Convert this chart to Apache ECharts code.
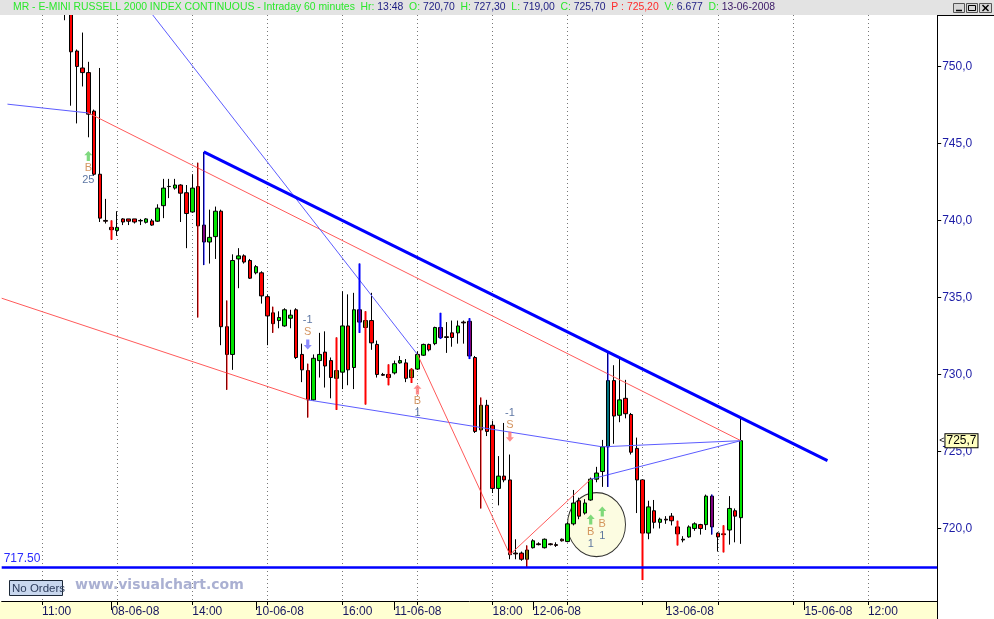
<!DOCTYPE html>
<html><head><meta charset="utf-8">
<script src="https://cdn.jsdelivr.net/npm/echarts@6/dist/echarts.min.js"></script>
<style>html,body{margin:0;padding:0;background:#fff}#c{width:994px;height:619px}</style>
</head><body><div id="c"></div>
<script>
// ---------- DATA ----------
const totalSlots = 163;           // hourly slots on the category axis (incl. empty future slots)
const firstBar = 11;              // slot of the first candle
const opens = [755.5,754.5,751.0,749.9,749.6,747.1,743.0,740.0,739.55,739.35,740.1,740.1,740.1,740.0,739.88,739.97,739.95,740.96,742.2,742.1,
742.3,741.8,740.55,742.2,739.7,738.6,738.95,740.6,733.1,731.3,737.5,737.7,737.4,736.6,736.6,735.05,734.0,733.5,733.15,733.65,
734.2,731.3,730.25,728.35,730.9,731.45,730.9,729.75,730.15,733.15,730.45,734.2,733.05,733.5,731.95,730.0,730.0,730.1,730.75,730.75,
729.8,730.35,731.25,731.95,732.0,733.05,732.45,732.7,732.7,733.4,733.45,731.1,726.4,728.0,726.7,722.6,723.4,723.15,718.4,718.4,
718.0,718.75,719.0,718.75,719.0,718.95,719.3,719.15,720.3,721.8,721.0,721.85,723.2,723.7,725.3,729.6,727.35,728.45,727.4,725.2,
723.15,719.7,721.15,720.4,720.6,720.8,720.1,719.3,719.45,720.0,720.25,720.25,722.1,719.7,719.65,719.9,721.15,720.7];
const highs = [756.0,755.0,751.1,752.2,750.3,747.2,749.9,741.4,740.0,740.6,740.15,740.1,740.1,740.1,740.15,740.1,741.05,742.7,742.7,742.7,
742.35,742.3,743.0,743.75,744.45,740.7,740.9,740.7,734.8,737.8,738.2,737.8,737.5,737.1,736.7,735.2,734.4,734.1,734.3,734.2,
734.3,732.0,730.7,731.3,732.7,732.8,731.1,732.4,735.4,735.2,735.3,737.2,734.1,735.3,732.2,730.1,730.65,730.9,731.2,731.0,
730.4,731.5,732.0,732.0,733.1,734.0,733.4,733.5,733.5,733.5,733.65,731.2,728.5,728.35,727.0,724.7,726.85,724.8,719.3,718.5,
718.9,719.3,719.1,719.35,719.05,719.1,719.35,720.4,722.5,722.0,721.9,723.3,724.0,725.75,731.4,730.6,731.05,729.65,727.5,725.9,
723.2,721.8,721.85,720.7,720.8,721.0,720.5,719.5,720.2,720.4,720.3,722.2,722.2,719.75,720.2,722.1,721.3,727.3];
const lows = [753.0,747.45,746.3,748.7,745.4,742.9,739.9,739.8,738.75,739.0,739.7,739.7,739.8,739.7,739.8,739.65,739.9,740.15,741.45,742.0,
739.9,738.2,740.5,733.7,737.1,737.2,737.5,731.9,729.0,730.3,735.6,737.2,736.2,736.5,734.6,731.9,732.7,733.0,733.1,733.0,
731.0,729.5,727.2,728.3,729.8,729.15,728.45,727.7,729.05,729.3,729.05,732.7,728.05,731.6,729.8,729.9,729.3,730.0,730.7,729.5,
729.45,730.3,731.2,731.5,731.9,732.3,731.4,731.8,732.0,732.0,731.0,726.2,721.3,726.0,722.3,721.5,723.0,718.0,718.0,717.9,
717.5,718.7,718.9,718.7,718.9,718.8,719.15,719.1,720.2,720.6,720.9,721.8,723.0,722.7,722.7,725.5,726.9,727.15,724.8,721.0,
716.65,719.3,720.0,720.0,720.3,720.2,718.9,719.1,719.4,719.85,719.6,719.9,719.6,718.5,718.45,718.95,719.1,719.0];
const closes = [754.5,750.95,750.0,749.6,746.9,743.0,740.15,739.95,739.4,739.55,739.9,739.95,739.9,739.97,740.1,739.7,740.8,742.1,742.21,742.3,
741.77,740.45,742.1,739.65,738.6,738.9,740.6,733.1,731.3,737.4,737.7,737.3,736.25,737.0,735.1,733.8,733.3,733.7,734.2,733.85,
731.1,730.3,728.35,731.05,731.3,730.55,729.8,730.25,733.15,730.3,734.2,733.4,733.5,732.05,730.0,729.95,729.8,730.7,730.9,729.75,
730.3,731.3,731.95,731.6,733.05,732.4,732.4,732.4,733.15,733.35,731.2,726.3,728.0,726.3,722.6,723.4,723.15,718.3,718.35,718.0,
718.6,719.2,718.95,719.3,718.95,718.9,719.2,720.3,721.65,720.8,721.65,723.2,723.6,725.3,729.6,727.3,728.35,727.45,724.95,723.15,
719.7,721.4,720.4,720.6,720.55,720.5,719.65,719.25,720.1,720.3,720.0,722.1,720.1,719.45,719.6,721.3,720.8,725.7];

// coloured range highlights (slot, low, high)
const redMarkIdx  = [19,34,39,47,53,58,63,67,71,83,91,111,117,125];
const redMarkLow  = [738.75,733.7,729.0,732.7,727.2,727.7,728.05,729.3,729.45,721.3,717.5,716.65,718.9,718.45];
const redMarkHigh = [740.0,743.75,734.8,734.4,730.7,732.4,734.1,730.65,730.4,728.5,718.9,723.15,720.5,720.2];
const blueMarkIdx  = [35,62,76,81,105,123];
const blueMarkLow  = [737.1,732.7,732.3,731.0,722.7,719.6];
const blueMarkHigh = [744.45,737.2,734.0,733.65,731.4,722.2];

// trend lines: [slot, price]
const lineResist = [[35,744.45],[143,724.41]];
const lineBlueA  = [[1,747.55],[15,746.98]];
const lineRedA   = [[15,746.98],[128,725.7]];
const lineBlueB  = [[20,756.3],[72,731.3]];
const lineRedB   = [[72,731.3],[88,718.3],[102,723.2]];
const lineBlueC  = [[102,723.2],[128,725.7]];
const lineRedC   = [[0,734.95],[53,728.35]];
const lineBlueD  = [[53,728.35],[104,725.3],[128,725.7]];

const supportLevel = 717.5;
const lastPrice = 725.7;

// trade signals
const annIdx   = [15,53,72,88,102,104];
const annPrice = [744.19,731.95,729.03,725.96,720.58,721.1];
const annSide  = ['B','S','B','S','B','B'];
const annQty   = ['25','-1','1','-1','1','1'];
const annTone  = ['g','b','r','r','g','g'];
const circleAt = [103,720.25];

// x axis labels
const gridTickStart = 7, gridTickStep = 13;
const timeLabelIdx  = [7,33,59,85,150];
const timeLabelText = ['11:00','14:00','16:00','18:00','12:00'];
const dateLabelIdx  = [19,44,68,92,115,139];
const dateLabelText = ['08-06-08','10-06-08','11-06-08','12-06-08','13-06-08','15-06-08'];

// ---------- BUILD ----------
const cats = Array.from({length: totalSlots}, (_, i) => String(i));
const candles = opens.map((o, i) => [firstBar + i, o, closes[i], lows[i], highs[i]]);
const redMarks = redMarkIdx.map((k, i) => [k, redMarkLow[i], redMarkHigh[i], redMarkLow[i], redMarkHigh[i]]);
const blueMarks = blueMarkIdx.map((k, i) => [k, blueMarkLow[i], blueMarkHigh[i], blueMarkLow[i], blueMarkHigh[i]]);

const FONT = '"Liberation Sans", Arial, sans-serif';
const upArrow = 'path://M4,0 L8,4 L5.6,4 L5.6,9 L2.4,9 L2.4,4 L0,4 Z';
const downArrow = 'path://M2.4,0 L5.6,0 L5.6,5 L8,5 L4,9 L0,5 L2.4,5 Z';
const toneColor = {g: '#5fcf5f', b: '#6f6fff', r: '#ff6f6f'};

const annData = annIdx.map((k, i) => {
  const buy = annSide[i] === 'B';
  return {
    value: [k, annPrice[i]],
    symbol: buy ? upArrow : downArrow,
    itemStyle: {color: toneColor[annTone[i]]},
    label: {
      show: true,
      position: buy ? 'bottom' : 'top',
      distance: 1,
      formatter: buy ? '{l|' + annSide[i] + '}\n{q|' + annQty[i] + '}' : '{q|' + annQty[i] + '}\n{l|' + annSide[i] + '}',
      rich: {
        l: {color: '#c97a3a', fontSize: 11, fontFamily: FONT, lineHeight: 12},
        q: {color: '#34548c', fontSize: 11, fontFamily: FONT, lineHeight: 12}
      }
    }
  };
});

function trend(data, color, width) {
  return {type: 'line', data: data, symbol: 'none', silent: true, z: 3,
          lineStyle: {color: color, width: width}, clip: true, animation: false};
}

const TF = '10.4px ' + FONT;
const chart = echarts.init(document.getElementById('c'), null, {renderer: 'canvas'});
chart.setOption({
  animation: false,
  backgroundColor: '#ffffff',
  grid: {left: 1.7, top: 15, width: 935.5, height: 586, containLabel: false, outerBoundsMode: 'none'},
  xAxis: [{
    type: 'category', data: cats, boundaryGap: false, position: 'bottom',
    axisLine: {show: true, lineStyle: {color: '#000', width: 1}},
    axisTick: {show: true, length: 4, lineStyle: {color: '#000'},
               interval: (i) => i >= gridTickStart && (i - gridTickStart) % gridTickStep === 0},
    splitLine: {show: true, lineStyle: {color: '#777', width: 1, type: [1, 3]},
                interval: (i) => i >= gridTickStart && (i - gridTickStart) % gridTickStep === 0},
    axisLabel: {show: true, interval: 0, align: 'left', margin: 5, color: '#161660', fontSize: 12, fontFamily: FONT,
                formatter: (v) => { const j = timeLabelIdx.indexOf(Number(v)); return j >= 0 ? timeLabelText[j] : ''; }}
  }, {
    type: 'category', data: cats, boundaryGap: false, position: 'bottom',
    axisLine: {show: false},
    axisTick: {show: true, length: 9, lineStyle: {color: '#000'},
               interval: (i) => dateLabelIdx.indexOf(i) >= 0},
    splitLine: {show: false},
    axisLabel: {show: true, interval: 0, align: 'left', margin: 5, color: '#161660', fontSize: 12, fontFamily: FONT,
                formatter: (v) => { const j = dateLabelIdx.indexOf(Number(v)); return j >= 0 ? dateLabelText[j] : ''; }}
  }],
  yAxis: {
    type: 'value', position: 'right', min: 715.29, max: 753.34, minInterval: 5, maxInterval: 5,
    splitLine: {show: false},
    axisLine: {show: true, lineStyle: {color: '#000', width: 1}},
    axisTick: {show: true, length: 4, lineStyle: {color: '#000'}},
    axisLabel: {margin: 5, color: '#1c1ca6', fontSize: 12, fontFamily: FONT, showMinLabel: false, showMaxLabel: false,
                formatter: (v) => Math.abs(v / 5 - Math.round(v / 5)) < 1e-6 ? v.toFixed(1).replace('.', ',') : ''}
  },
  graphic: [
    {type: 'rect', z: 100, silent: true, shape: {x: 0, y: 0, width: 994, height: 15}, style: {fill: '#e3e3e3'}},
    {type: 'rect', z: -10, silent: true, shape: {x: 0, y: 601.5, width: 937, height: 18}, style: {fill: '#ffffd2'}},
    {type: 'line', z: 10, silent: true, shape: {x1: 937.5, y1: 600, x2: 937.5, y2: 619}, style: {stroke: '#000', lineWidth: 1}},
    {type: 'line', z: 101, silent: true, shape: {x1: 937, y1: 15.5, x2: 994, y2: 15.5}, style: {stroke: '#000', lineWidth: 1}},
    {type: 'text', z: 101, silent: true, x: 13, y: 7.5, style: {
      text: '{g|MR - E-MINI RUSSELL 2000 INDEX CONTINUOUS - Intraday 60 minutes  Hr: }{b|13:48}{g|  O: }{b|720,70}{g|  H: }{b|727,30}{g|  L: }{b|719,00}{g|  C: }{b|725,70}{r|  P : 725,20}{g|  V: }{b|6.677}{g|  D: }{d|13-06-2008}',
      verticalAlign: 'middle', font: TF,
      rich: {
        g: {fill: '#2be82b', font: TF},
        b: {fill: '#1c1c82', font: TF},
        r: {fill: '#ff2a2a', font: TF},
        d: {fill: '#3a1866', font: TF}
      }}},
    {type: 'rect', z: 101, silent: true, shape: {x: 953.5, y: 3.5, width: 11, height: 9}, style: {fill: '#d6d6d6', stroke: '#555'}},
    {type: 'rect', z: 101, silent: true, shape: {x: 966.5, y: 3.5, width: 11, height: 9}, style: {fill: '#d6d6d6', stroke: '#555'}},
    {type: 'rect', z: 101, silent: true, shape: {x: 979.5, y: 3.5, width: 12, height: 9}, style: {fill: '#d6d6d6', stroke: '#555'}},
    {type: 'line', z: 102, silent: true, shape: {x1: 956, y1: 10.5, x2: 962, y2: 10.5}, style: {stroke: '#000', lineWidth: 1.5}},
    {type: 'rect', z: 102, silent: true, shape: {x: 968.5, y: 5.5, width: 7, height: 5}, style: {fill: 'none', stroke: '#000', lineWidth: 1}},
    {type: 'line', z: 102, silent: true, shape: {x1: 982.5, y1: 5, x2: 988.5, y2: 11}, style: {stroke: '#000', lineWidth: 1.5}},
    {type: 'line', z: 102, silent: true, shape: {x1: 988.5, y1: 5, x2: 982.5, y2: 11}, style: {stroke: '#000', lineWidth: 1.5}},
    {type: 'rect', z: 10, silent: true, shape: {x: 9.5, y: 580.5, width: 53, height: 15}, style: {fill: '#c8d7ee', stroke: '#1c2838', lineWidth: 1}},
    {type: 'text', z: 11, silent: true, x: 12, y: 588.5, style: {text: 'No Orders', fill: '#2c3c5c', font: '11.5px ' + FONT, verticalAlign: 'middle'}},
    {type: 'text', z: 10, silent: true, x: 75, y: 585, style: {text: 'www.visualchart.com', fill: '#aab0d2', font: 'bold 14px "DejaVu Sans", Verdana, sans-serif', verticalAlign: 'middle'}}
  ],
  series: [
    {type: 'scatter', name: 'circle', z: 1, silent: true, data: [circleAt], symbol: 'circle', symbolSize: [58, 64],
     itemStyle: {color: '#fbfbda', borderColor: '#000', borderWidth: 1}},
    {type: 'candlestick', name: 'price', z: 2, clip: true, barWidth: 4,
     encode: {x: 0, y: [1, 2, 3, 4]}, data: candles,
     itemStyle: {color: '#00e400', color0: '#ff0000', borderColor: '#000', borderColor0: '#000', borderWidth: 1},
     markLine: {silent: true, symbol: 'none', animation: false, data: [
       {yAxis: supportLevel, lineStyle: {color: '#0000ff', width: 2.5, type: 'solid'},
        label: {show: true, position: 'insideStartTop', distance: 2, formatter: '717.50', color: '#2a2aff', fontSize: 12, fontFamily: FONT}},
       {yAxis: lastPrice, lineStyle: {color: 'rgba(0,0,0,0)', width: 0},
        label: {show: true, position: 'end', distance: 2, formatter: '{a|<}{b|725,7}', color: '#000',
                rich: {a: {color: '#000', fontSize: 9, fontFamily: FONT, padding: [0, 1, 0, 0]},
                       b: {color: '#000', fontSize: 12, fontFamily: FONT, backgroundColor: '#ffffc0', borderColor: '#000', borderWidth: 1, padding: [1, 1, 0, 1]}}}}
     ]}},
    trend(lineRedC, '#ff5a5a', 1),
    trend(lineBlueD, '#5c5cff', 1),
    trend(lineBlueA, '#5c5cff', 1),
    trend(lineRedA, '#ff5a5a', 1),
    trend(lineBlueB, '#5c5cff', 1),
    trend(lineRedB, '#ff5a5a', 1),
    trend(lineBlueC, '#5c5cff', 1),
    trend(lineResist, '#0000ff', 3),
    {type: 'candlestick', name: 'red marks', z: 4, clip: true, barWidth: 2, silent: true,
     encode: {x: 0, y: [1, 2, 3, 4]}, data: redMarks,
     itemStyle: {color: '#ff0000', color0: '#ff0000', borderColor: '#ff0000', borderColor0: '#ff0000', borderWidth: 0}},
    {type: 'candlestick', name: 'blue marks', z: 4, clip: true, barWidth: 2, silent: true,
     encode: {x: 0, y: [1, 2, 3, 4]}, data: blueMarks,
     itemStyle: {color: '#0000ff', color0: '#0000ff', borderColor: '#0000ff', borderColor0: '#0000ff', borderWidth: 0}},
    {type: 'scatter', name: 'signals', z: 5, silent: true, symbolSize: [8, 10], data: annData}
  ]
});
</script></body></html>
